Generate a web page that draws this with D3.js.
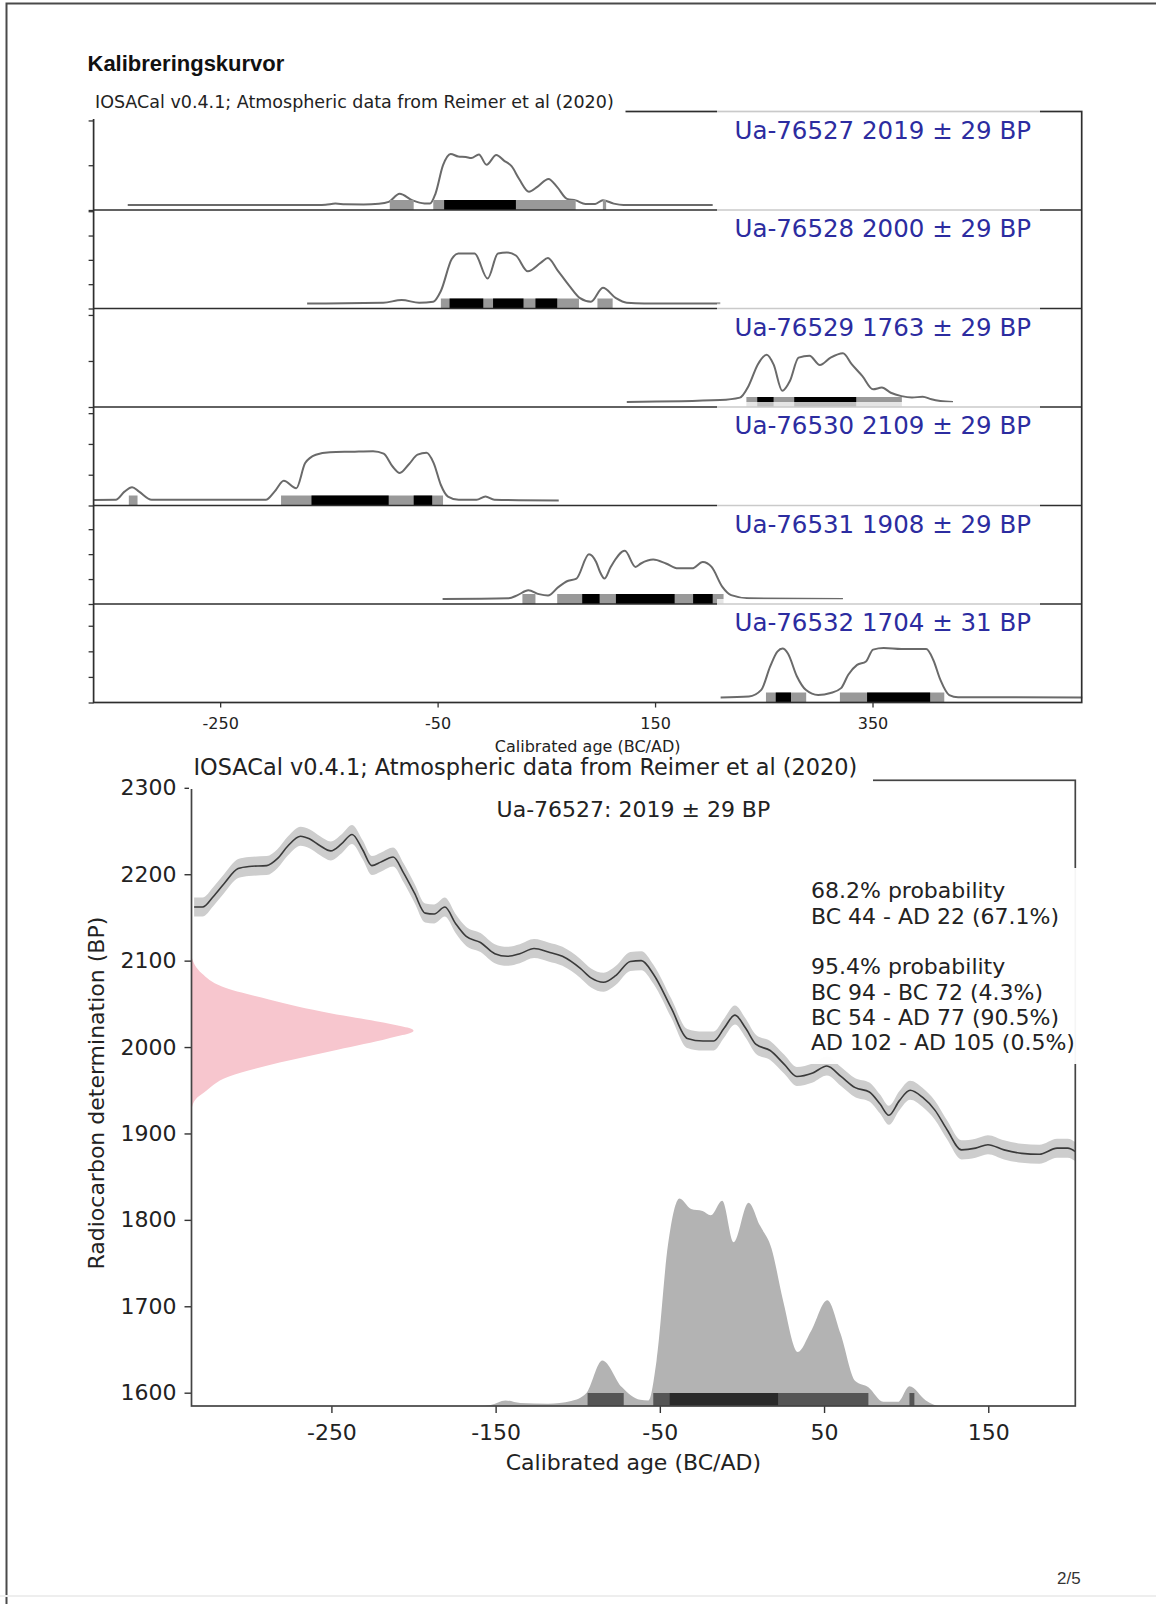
<!DOCTYPE html>
<html>
<head>
<meta charset="utf-8">
<script src="https://cdn.jsdelivr.net/npm/d3@7"></script>
<style>
  body { margin: 0; background: #fff; }
  text { font-family: "DejaVu Sans", sans-serif; }
</style>
</head>
<body>
<svg id="page"></svg>
<script>
// ---- samples (stacked panels) ----
const sampleIds = ["Ua-76527", "Ua-76528", "Ua-76529", "Ua-76530", "Ua-76531", "Ua-76532"];
const sampleBP = [2019, 2000, 1763, 2109, 1908, 1704];
const sampleErr = [29, 29, 29, 29, 29, 31];

// calibrated densities, [year, fraction of panel peak]
const dens76527 = [[-335,0],[-160,0],[-153,0.005],[-144,0.027],[-135,0.014],[-118,0.011],[-104,0.024],[-95,0.06],[-85,0.22],[-73,0.09],[-62,0.03],[-57,0.027],[-52,0.22],[-45,0.78],[-38,1.0],[-31,0.95],[-24,0.94],[-19,0.92],[-12,0.99],[-5,0.79],[4,0.98],[11,0.87],[18,0.76],[25,0.51],[34,0.26],[42,0.36],[52,0.51],[60,0.35],[69,0.12],[77,0.09],[86,0.02],[95,0.02],[102,0.095],[112,0.027],[121,0],[203,0]];
const dens76528 = [[-170,0],[-100,0.014],[-83,0.07],[-67,0.014],[-54,0.035],[-47,0.245],[-37,0.87],[-31,0.98],[-16,0.98],[-4,0.49],[5.5,0.98],[13.7,1.0],[22,0.94],[33,0.63],[45,0.8],[51.5,0.89],[60,0.66],[71,0.35],[81,0.105],[91,0.035],[102,0.31],[114,0.105],[124,0.014],[140,0],[210,0]];
const dens76529 = [[124,0],[210,0.04],[228,0.09],[236,0.33],[244.5,0.77],[252.7,0.97],[259,0.77],[267,0.23],[274,0.43],[282,0.91],[292,0.95],[301.6,0.76],[311.4,0.91],[322.8,1.0],[331,0.77],[340.7,0.53],[350.5,0.26],[358.6,0.295],[366.8,0.19],[376.6,0.12],[386.3,0.09],[396.2,0.11],[404.2,0.055],[412.4,0.02],[424,0]];
const dens76530 = [[-366,0.01],[-346,0.014],[-338,0.18],[-331,0.27],[-324.6,0.18],[-313,0.014],[-208,0.014],[-200,0.18],[-191.5,0.4],[-180,0.25],[-171.8,0.76],[-162,0.93],[-149,0.98],[-129,0.99],[-109.4,1.0],[-99.6,0.95],[-91.4,0.69],[-84.8,0.56],[-76.6,0.73],[-68.4,0.93],[-60.2,0.97],[-53.6,0.76],[-47.1,0.32],[-40.5,0.08],[-30.6,0.014],[-14.2,0.014],[-6,0.08],[2.2,0.014],[61.4,0]];
const dens76531 = [[-45.4,0],[15.4,0.014],[23.6,0.08],[33.4,0.18],[43.2,0.1],[51.5,0.07],[61.3,0.25],[69.5,0.37],[77.7,0.42],[89.2,0.92],[95.8,0.76],[99.5,0.55],[103.4,0.42],[109.2,0.66],[122.2,0.99],[132,0.66],[137,0.73],[148.3,0.81],[160,0.73],[171.1,0.63],[184.1,0.63],[193.9,0.76],[202,0.66],[211.9,0.25],[220,0.08],[236.3,0.014],[322.8,0]];
const dens76532 = [[210.3,0],[236.3,0.02],[247.7,0.155],[255.9,0.63],[262.5,0.93],[267.3,0.99],[272.2,0.89],[280.4,0.43],[288.6,0.155],[300,0.05],[311.4,0.09],[321.1,0.19],[327.7,0.46],[335.8,0.66],[344,0.73],[350.5,0.97],[360.3,1.0],[376.6,0.98],[386.3,0.98],[399.4,0.98],[405.9,0.76],[412.4,0.36],[420.6,0.05],[428.7,0.007],[542.9,0]];
const densities = [dens76527, dens76528, dens76529, dens76530, dens76531, dens76532];

const panelPeak = [0.0057, 0.0042, 0.0053, 0.0032, 0.0039, 0.00386];
const panelYMax = [0.011, 0.0081, 0.0107, 0.0064, 0.0079, 0.0077];
const panelTickStep = [0.005, 0.002, 0.005, 0.002, 0.002, 0.002];

// highest density ranges per sample
const hpd68 = [
  [[-44, 22]],
  [[-39, -8], [1, 29], [40, 60]],
  [[244, 259], [278, 335]],
  [[-166, -95], [-72, -55]],
  [[83, 99], [114, 168], [185, 203]],
  [[261, 275], [345, 403]]
];
const hpd95 = [
  [[-94, -72], [-54, 77], [102, 105]],
  [[-47, 80], [97, 111]],
  [[234, 377]],
  [[-334, -326], [-194, -45]],
  [[28, 40], [60, 213]],
  [[252, 289], [320, 416]]
];
const topTicks = [-250, -50, 150, 350];

// ---- single plot for Ua-76527 ----
const calCurve = [[-333.6,2162],[-328.5,2162],[-322,2174],[-315.4,2189],[-306.8,2206.5],[-300.2,2209],[-289.4,2210],[-282.9,2218],[-276.4,2233],[-268.8,2244],[-263.4,2241],[-256.9,2233],[-250.4,2227],[-243.9,2235],[-237.4,2246],[-230.9,2228],[-225.4,2210],[-220,2214],[-212.4,2220],[-205.9,2201],[-199.4,2178],[-192.9,2155],[-187.4,2154],[-180.9,2162],[-174.4,2143],[-167.9,2128],[-159.2,2121],[-150.5,2108],[-142.9,2105],[-135.3,2108],[-126.6,2114],[-117.9,2110],[-109.3,2105],[-98.4,2091],[-91.9,2080],[-84.3,2075],[-76.7,2083],[-68,2099],[-61.3,2100],[-53.8,2084],[-43,2045],[-33.3,2010],[-23.7,2007],[-17.2,2007],[-10.8,2022],[-4.3,2037],[2.2,2022],[8.6,2003],[17.2,1996],[25.8,1980],[33.4,1966],[43.1,1970],[51.7,1978],[60.3,1966],[69,1953],[77.6,1948],[84.1,1934],[89.5,1921],[95.9,1938],[102.4,1950],[109.9,1942],[117.5,1927],[125,1904],[133.7,1881],[142.3,1883],[149.8,1887],[159.6,1881],[170.4,1877],[181.1,1876],[191.9,1883],[198.4,1883],[203,1879]];
const calSigma = 11;
const pinkBP  = [2105, 2095, 2085, 2070, 2055, 2039, 2028, 2019, 2010, 1997, 1982, 1966, 1947, 1940, 1931];
const pinkRel = [0, 0.015, 0.047, 0.137, 0.349, 0.625, 0.87, 1.0, 0.886, 0.658, 0.397, 0.169, 0.055, 0.02, 0.003];
const pinkMaxYear = -200;
const calFillSpan = 240;
const hpdLevels = [68.2, 95.4];
const legend68 = [{ from: -44, to: 22, p: 67.1 }];
const legend95 = [{ from: -94, to: -72, p: 4.3 }, { from: -54, to: 77, p: 90.5 }, { from: 102, to: 105, p: 0.5 }];
const bottomXTicks = [-250, -150, -50, 50, 150];
const bottomYTicks = [1600, 1700, 1800, 1900, 2000, 2100, 2200, 2300];

const W = 1156, H = 1604;
const svg = d3.select("#page").attr("width", W).attr("height", H);
svg.append("rect").attr("width", W).attr("height", H).attr("fill", "#fff");

// page edge
svg.append("path").attr("d", "M6.5,1604V3.5H1156").attr("fill", "none").attr("stroke", "#4a4a4a").attr("stroke-width", 2);
svg.append("line").attr("x1", 0).attr("x2", W).attr("y1", 1596).attr("y2", 1596).attr("stroke", "#eee").attr("stroke-width", 2);

svg.append("text").text("Kalibreringskurvor")
  .attr("x", 87.5).attr("y", 70.5)
  .style("font-family", "'Liberation Sans', Arial, sans-serif")
  .attr("font-weight", "bold").attr("font-size", 22).attr("fill", "#111");

svg.append("text").text("2/5")
  .attr("x", 1057).attr("y", 1584)
  .style("font-family", "'Liberation Sans', Arial, sans-serif")
  .attr("font-size", 17).attr("fill", "#333");

// ================= stacked panels =================
const topBox = { left: 93.6, right: 1081.7, y: 111.5, panelH: 98.5 };
const tx = d3.scaleLinear().domain([-366.4, 542.4]).range([topBox.left, topBox.right]);
const topG = svg.append("g");
const lift = 5;

densities.forEach((dens, i) => {
  const y0 = topBox.y + i * topBox.panelH, y1 = y0 + topBox.panelH;
  const py = d3.scaleLinear().domain([0, panelYMax[i]]).range([y1, y0]);
  const g = topG.append("g");

  g.append("path").datum(dens)
    .attr("fill", "none").attr("stroke", "#6a6a6a").attr("stroke-width", 2)
    .attr("d", d3.line()
      .x(d => tx(d[0]))
      .y(d => py(d[1] * panelPeak[i]) - lift)
      .curve(d3.curveMonotoneX));

  g.selectAll("rect.b95").data(hpd95[i]).join("rect").attr("class", "b95")
    .attr("x", d => tx(d[0])).attr("width", d => tx(d[1]) - tx(d[0]))
    .attr("y", y1 - 2 * lift).attr("height", 2 * lift).attr("fill", "#999");
  g.selectAll("rect.b68").data(hpd68[i]).join("rect").attr("class", "b68")
    .attr("x", d => tx(d[0])).attr("width", d => tx(d[1]) - tx(d[0]))
    .attr("y", y1 - 2 * lift).attr("height", 2 * lift).attr("fill", "#000");

  const yt = g.append("g")
    .attr("transform", `translate(${topBox.left},0)`)
    .call(d3.axisLeft(py)
      .tickValues(d3.range(0, panelYMax[i] + 1e-9, panelTickStep[i]))
      .tickFormat("").tickSize(5).tickSizeOuter(0));
  yt.select(".domain").remove();
  yt.selectAll("line").attr("stroke", "#333").attr("stroke-width", 1.3);
});

// frame and separators
topG.append("rect")
  .attr("x", topBox.left).attr("y", topBox.y)
  .attr("width", topBox.right - topBox.left).attr("height", topBox.panelH * densities.length)
  .attr("fill", "none").attr("stroke", "#2e2e2e").attr("stroke-width", 1.7);
topG.selectAll("line.sep").data(d3.range(1, densities.length)).join("line").attr("class", "sep")
  .attr("x1", topBox.left).attr("x2", topBox.right)
  .attr("y1", i => topBox.y + i * topBox.panelH).attr("y2", i => topBox.y + i * topBox.panelH)
  .attr("stroke", "#2e2e2e").attr("stroke-width", 1.7);

// sample labels
sampleIds.forEach((id, i) => {
  const y0 = topBox.y + i * topBox.panelH;
  topG.append("rect").attr("x", 717).attr("y", y0 - 5).attr("width", 323).attr("height", 40)
    .attr("fill", "#fff").attr("opacity", 0.75);
  topG.append("text").text(`${id} ${sampleBP[i]} ± ${sampleErr[i]} BP`)
    .attr("x", 1031).attr("y", y0 + 27).attr("text-anchor", "end")
    .attr("font-size", 24.5).attr("fill", "#2c2ca0");
});

// x axis
const txAxis = topG.append("g")
  .attr("transform", `translate(0,${topBox.y + topBox.panelH * densities.length})`)
  .call(d3.axisBottom(tx).tickValues(topTicks).tickFormat(d => String(d))
    .tickSize(5).tickSizeOuter(0).tickPadding(10));
txAxis.select(".domain").remove();
txAxis.selectAll("line").attr("stroke", "#333").attr("stroke-width", 1.3);
txAxis.selectAll("text").attr("font-size", 16).attr("fill", "#222")
  .style("font-family", "'DejaVu Sans', sans-serif");

topG.append("rect").attr("x", 92).attr("y", 91).attr("width", 533.5).attr("height", 28).attr("fill", "#fff");
topG.append("text").text("IOSACal v0.4.1; Atmospheric data from Reimer et al (2020)")
  .attr("x", 95).attr("y", 108.3).attr("font-size", 17.5).attr("fill", "#222");

// ================= single calibration plot =================
const bx = d3.scaleLinear().domain([-335.2, 203]).range([191.5, 1075.3]);
const by = d3.scaleLinear().domain([1584.6, 2308.7]).range([1406, 780.3]);
const bG = svg.append("g");

bG.append("path").datum(calCurve)
  .attr("fill", "#cdcdcd")
  .attr("d", d3.area()
    .x(d => bx(d[0]))
    .y0(d => by(d[1] - calSigma))
    .y1(d => by(d[1] + calSigma))
    .curve(d3.curveMonotoneX));
bG.append("path").datum(calCurve)
  .attr("fill", "none").attr("stroke", "#3a3a3a").attr("stroke-width", 1.6)
  .attr("d", d3.line().x(d => bx(d[0])).y(d => by(d[1])).curve(d3.curveMonotoneX));

// radiocarbon determination
const pinkData = pinkBP.map((bp, k) => ({ bp, rel: pinkRel[k] }));
const px0 = bx.range()[0];
bG.append("path").datum(pinkData)
  .attr("fill", "#f7c6ce")
  .attr("d", d3.area()
    .y(d => by(d.bp))
    .x0(px0)
    .x1(d => px0 + d.rel * (bx(pinkMaxYear) - px0))
    .curve(d3.curveMonotoneY));

// calibrated distribution
const yBase = by.domain()[0];
bG.append("path").datum(dens76527)
  .attr("fill", "#b3b3b3")
  .attr("d", d3.area()
    .x(d => bx(d[0]))
    .y0(by(yBase))
    .y1(d => by(yBase + d[1] * calFillSpan))
    .curve(d3.curveMonotoneX));

const barH = 13;
bG.selectAll("rect.c95").data(legend95).join("rect").attr("class", "c95")
  .attr("x", d => bx(d.from)).attr("width", d => bx(d.to) - bx(d.from))
  .attr("y", by(yBase) - barH).attr("height", barH).attr("fill", "#555");
bG.selectAll("rect.c68").data(legend68).join("rect").attr("class", "c68")
  .attr("x", d => bx(d.from)).attr("width", d => bx(d.to) - bx(d.from))
  .attr("y", by(yBase) - barH).attr("height", barH).attr("fill", "#2a2a2a");

// axes
const bxAxis = bG.append("g")
  .attr("transform", `translate(0,${by.range()[0]})`)
  .call(d3.axisBottom(bx).tickValues(bottomXTicks).tickFormat(d => String(d))
    .tickSize(7).tickSizeOuter(0).tickPadding(11));
const byAxis = bG.append("g")
  .attr("transform", `translate(${bx.range()[0]},0)`)
  .call(d3.axisLeft(by).tickValues(bottomYTicks).tickFormat(d => String(d))
    .tickSize(7).tickSizeOuter(0).tickPadding(8));
[bxAxis, byAxis].forEach(a => {
  a.select(".domain").remove();
  a.selectAll("line").attr("stroke", "#333").attr("stroke-width", 1.4);
  a.selectAll("text").attr("font-size", 22).attr("fill", "#222")
    .style("font-family", "'DejaVu Sans', sans-serif");
});

bG.append("rect")
  .attr("x", bx.range()[0]).attr("y", by.range()[1])
  .attr("width", bx.range()[1] - bx.range()[0]).attr("height", by.range()[0] - by.range()[1])
  .attr("fill", "none").attr("stroke", "#444").attr("stroke-width", 1.7);

bG.append("text").text("Calibrated age (BC/AD)")
  .attr("x", (bx.range()[0] + bx.range()[1]) / 2).attr("y", 1470)
  .attr("text-anchor", "middle").attr("font-size", 22).attr("fill", "#222");
bG.append("text").text("Radiocarbon determination (BP)")
  .attr("transform", `translate(104,${(by.range()[0] + by.range()[1]) / 2}) rotate(-90)`)
  .attr("text-anchor", "middle").attr("font-size", 22).attr("fill", "#222");

bG.append("rect").attr("x", 189).attr("y", 756).attr("width", 684).attr("height", 33).attr("fill", "#fff");
bG.append("text").text("IOSACal v0.4.1; Atmospheric data from Reimer et al (2020)")
  .attr("x", 193.5).attr("y", 775).attr("font-size", 22.4).attr("fill", "#222");

// top x label drawn after the box so it stays fully visible
topG.raise();
topG.append("text").text("Calibrated age (BC/AD)")
  .attr("x", (topBox.left + topBox.right) / 2).attr("y", 751.5)
  .attr("text-anchor", "middle").attr("font-size", 16).attr("fill", "#222");

bG.append("text").text(`${sampleIds[0]}: ${sampleBP[0]} ± ${sampleErr[0]} BP`)
  .attr("x", (bx.range()[0] + bx.range()[1]) / 2).attr("y", 817)
  .attr("text-anchor", "middle").attr("font-size", 22).attr("fill", "#222");

// legend
const yr = y => (y < 0 ? `BC ${-y}` : `AD ${y}`);
const fmt = d => `${yr(d.from)} - ${yr(d.to)} (${d.p}%)`;
const legendLines = [`${hpdLevels[0]}% probability`, ...legend68.map(fmt), "",
                     `${hpdLevels[1]}% probability`, ...legend95.map(fmt)];
bG.append("rect").attr("x", 805).attr("y", 868).attr("width", 285).attr("height", 196)
  .attr("fill", "#fff").attr("opacity", 0.95);
bG.selectAll("text.leg").data(legendLines).join("text").attr("class", "leg")
  .text(d => d)
  .attr("x", 811).attr("y", (d, k) => 898.3 + k * 25.3)
  .attr("font-size", 22).attr("fill", "#222");
</script>
</body>
</html>
